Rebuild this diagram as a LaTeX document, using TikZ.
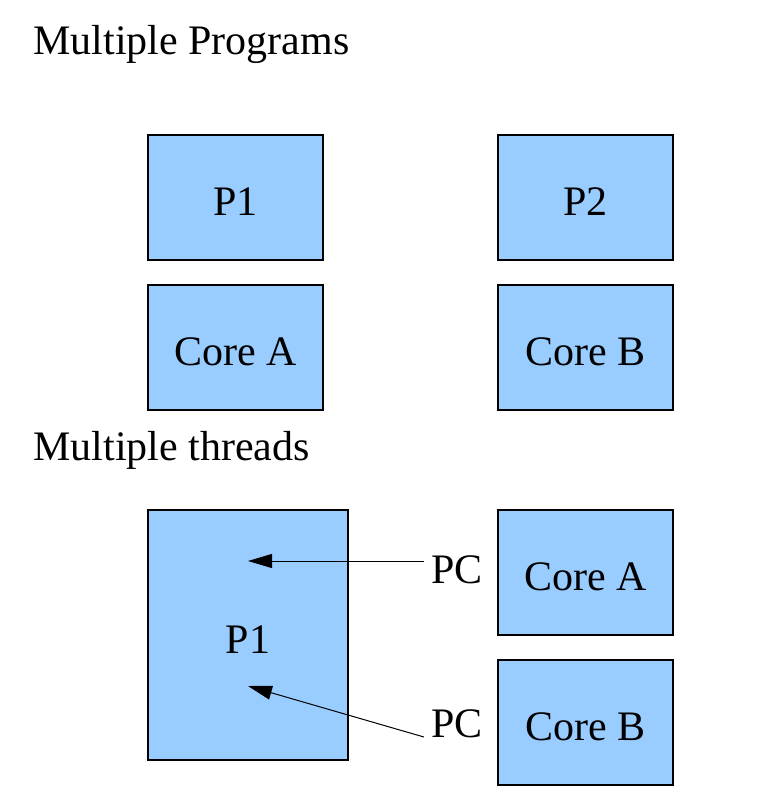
\documentclass[tikz,border=0pt]{standalone}
\usepackage{fontspec}
\setmainfont{Liberation Serif}
\usetikzlibrary{arrows.meta}
\definecolor{ink}{HTML}{000000}
\definecolor{skyfill}{HTML}{99CCFF}

\begin{document}
\begin{tikzpicture}[x=0.5pt,y=-0.5pt,>=Triangle,font=\fontsize{21}{25}\selectfont]
  \tikzset{
    unit/.style={draw=ink,fill=skyfill,line width=0.6pt,inner sep=0pt,text height=18pt,text depth=0pt,minimum width=87.5pt,minimum height=62.5pt},
    bigunit/.style={unit,minimum width=100pt,minimum height=125pt},
    heading/.style={anchor=base west,inner sep=0pt,text=ink},
    pclabel/.style={anchor=base,inner sep=3.5pt,text=ink},
    pcarrow/.style={ink,line width=0.5pt,-{Triangle[length=12pt,width=7pt]}}
  }
  \useasboundingbox (0,0) rectangle (775,804);

  % Multiple programs.
  \node[heading] (progtitle) at (33,54) {Multiple Programs};
  \node[unit] (progA) at (235.5,197.5) {P1};
  \node[unit] (progB) at (585.5,197.5) {P2};
  \node[unit] (coreA) at (235.5,347.5) {Core A};
  \node[unit] (coreB) at (585.5,347.5) {Core B};

  % Multiple threads.
  \node[heading] (threadtitle) at (33,460) {Multiple threads};
  \node[bigunit] (proc) at (248,635) {P1};
  \node[unit] (threadA) at (585.5,572.5) {Core A};
  \node[unit] (threadB) at (585.5,722.5) {Core B};
  \node[pclabel] (pcA) at (457,583) {PC};
  \node[pclabel] (pcB) at (457,737) {PC};
  \coordinate (tipA) at (248,561);
  \coordinate (tipB) at (248,686);
  \draw[pcarrow] (pcA.west |- tipA) -- (tipA);
  \draw[pcarrow] (pcB.base west) -- (tipB);
\end{tikzpicture}
\end{document}
